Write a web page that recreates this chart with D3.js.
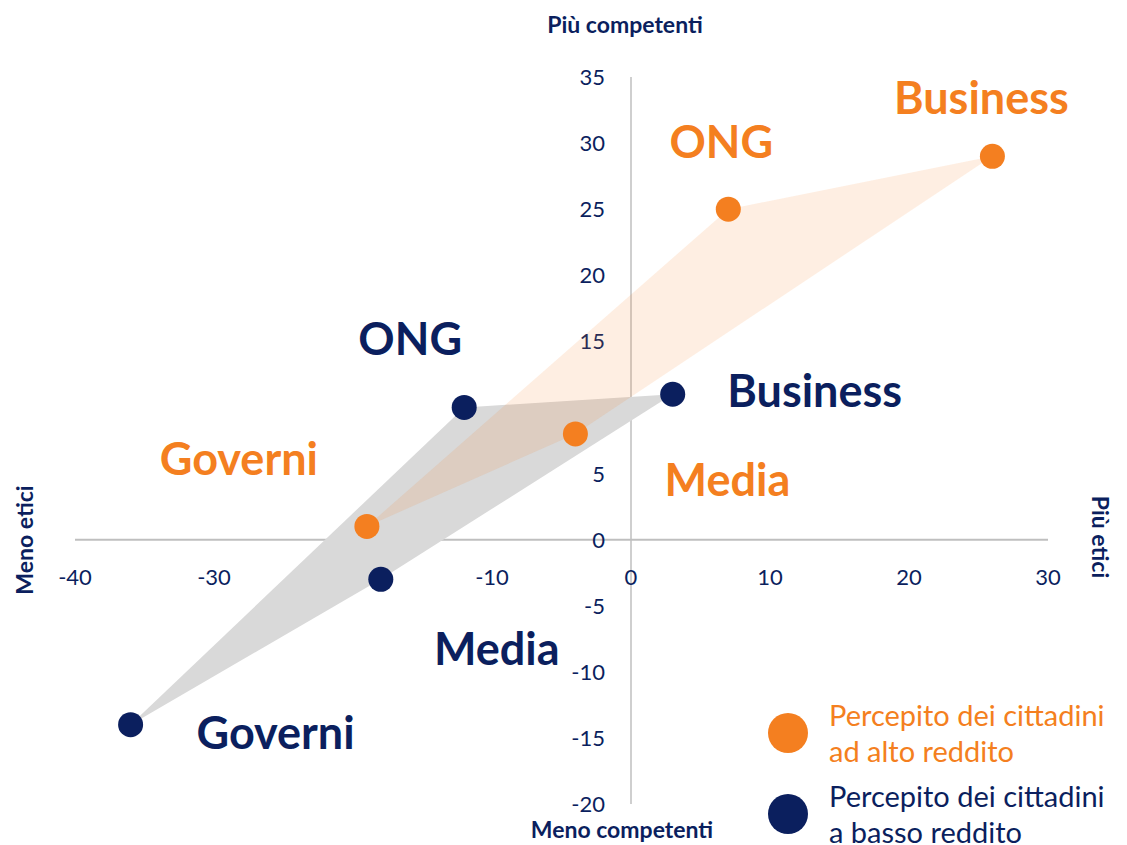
<!DOCTYPE html>
<html>
<head>
<meta charset="utf-8">
<script src="https://cdn.jsdelivr.net/npm/d3@7"></script>
<style>
  body { margin: 0; background: #fff; }
  text { font-family: Lato, "Open Sans", sans-serif; }
</style>
</head>
<body>
<div id="wrapper"></div>
<script>
// data
const sectors = ["Governi", "ONG", "Business", "Media"]
const highIncomeX = [-19, 7, 26, -4]
const highIncomeY = [1, 25, 29, 8]
const lowIncomeX = [-36, -12, 3, -18]
const lowIncomeY = [-14, 10, 11, -3]
const xTicks = [-40, -30, -20, -10, 0, 10, 20, 30]
const yTicks = [-20, -15, -10, -5, 0, 5, 10, 15, 20, 25, 30, 35]
const legendLabels = [
  ["Percepito dei cittadini", "ad alto reddito"],
  ["Percepito dei cittadini", "a basso reddito"]
]

const orange = "#f47f20"
const navy = "#0b1f5e"

const width = 1127
const height = 845

const svg = d3.select("#wrapper").append("svg")
    .attr("width", width)
    .attr("height", height)

const xScale = d3.scaleLinear().domain([-40, 30]).range([75, 1048])
const yScale = d3.scaleLinear().domain([-20, 35]).range([804, 77])

// axes lines
svg.append("line")
    .attr("x1", xScale(-40)).attr("x2", xScale(30))
    .attr("y1", yScale(0)).attr("y2", yScale(0))
    .attr("stroke", "#bfbfbf").attr("stroke-width", 2)
svg.append("line")
    .attr("x1", xScale(0)).attr("x2", xScale(0))
    .attr("y1", yScale(35)).attr("y2", yScale(-20))
    .attr("stroke", "#bfbfbf").attr("stroke-width", 1.5)

// tick labels
svg.selectAll(".xtick")
  .data(xTicks)
  .enter().append("text")
    .attr("class", "xtick")
    .attr("x", d => xScale(d))
    .attr("y", yScale(0) + 45)
    .attr("text-anchor", "middle")
    .attr("fill", navy)
    .style("font-size", "22px")
    .text(d => d)

svg.selectAll(".ytick")
  .data(yTicks)
  .enter().append("text")
    .attr("class", "ytick")
    .attr("x", xScale(0) - 26)
    .attr("y", d => yScale(d) + 8)
    .attr("text-anchor", "end")
    .attr("fill", navy)
    .style("font-size", "22px")
    .text(d => d)

// polygons
const lowPts = sectors.map((s, i) => [xScale(lowIncomeX[i]), yScale(lowIncomeY[i])])
const highPts = sectors.map((s, i) => [xScale(highIncomeX[i]), yScale(highIncomeY[i])])

svg.append("polygon")
    .attr("points", lowPts.map(p => p.join(",")).join(" "))
    .attr("fill", "#d9d9d9")
svg.append("polygon")
    .attr("points", highPts.map(p => p.join(",")).join(" "))
    .attr("fill", orange)
    .attr("fill-opacity", 0.13)

// dots
svg.selectAll(".dot-high")
  .data(highPts)
  .enter().append("circle")
    .attr("cx", d => d[0]).attr("cy", d => d[1])
    .attr("r", 12.5)
    .attr("fill", orange)
svg.selectAll(".dot-low")
  .data(lowPts)
  .enter().append("circle")
    .attr("cx", d => d[0]).attr("cy", d => d[1])
    .attr("r", 12.5)
    .attr("fill", navy)

// point labels (offsets in pixels from each point)
const highLabelOffsets = [[-128, -51], [-7, -51], [-11, -42], [152, 62]]
const lowLabelOffsets = [[145, 24], [-54, -52], [142, 13], [116, 86]]

svg.selectAll(".lab-high")
  .data(sectors)
  .enter().append("text")
    .attr("x", (d, i) => highPts[i][0] + highLabelOffsets[i][0])
    .attr("y", (d, i) => highPts[i][1] + highLabelOffsets[i][1])
    .attr("text-anchor", "middle")
    .attr("fill", orange)
    .style("font-size", "45px")
    .style("font-weight", "bold")
    .text(d => d)

svg.selectAll(".lab-low")
  .data(sectors)
  .enter().append("text")
    .attr("x", (d, i) => lowPts[i][0] + lowLabelOffsets[i][0])
    .attr("y", (d, i) => lowPts[i][1] + lowLabelOffsets[i][1])
    .attr("text-anchor", "middle")
    .attr("fill", navy)
    .style("font-size", "45px")
    .style("font-weight", "bold")
    .text(d => d)

// axis titles
const titleStyle = sel => sel
    .attr("fill", navy)
    .attr("text-anchor", "middle")
    .style("font-size", "23px")
    .style("font-weight", "bold")

svg.append("text").call(titleStyle)
    .attr("x", 625).attr("y", 33)
    .text("Più competenti")
svg.append("text").call(titleStyle)
    .attr("x", 622).attr("y", 838)
    .text("Meno competenti")
svg.append("text").call(titleStyle)
    .attr("transform", "translate(33,540) rotate(-90)")
    .text("Meno etici")
svg.append("text").call(titleStyle)
    .attr("transform", "translate(1092,537) rotate(90)")
    .text("Più etici")

// legend
const legendColors = [orange, navy]
const legend = svg.selectAll(".legend")
  .data(legendLabels)
  .enter().append("g")
    .attr("transform", (d, i) => `translate(788, ${733 + i * 81})`)
legend.append("circle")
    .attr("r", 20)
    .attr("fill", (d, i) => legendColors[i])
legend.each(function(d, i) {
  const t = d3.select(this).append("text")
      .attr("fill", legendColors[i])
      .style("font-size", "29px")
  d.forEach((line, j) => {
    t.append("tspan")
        .attr("x", 41)
        .attr("y", -7 + j * 36)
        .text(line)
  })
})
</script>
</body>
</html>
